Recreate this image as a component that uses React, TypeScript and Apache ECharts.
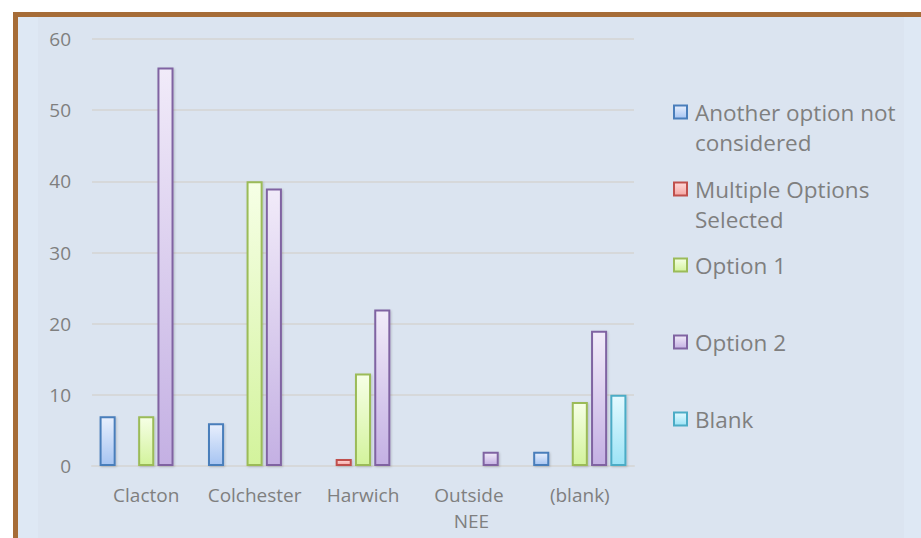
import React, { useEffect, useRef } from "react";
import * as echarts from "echarts";

const categories = ["Clacton", "Colchester", "Harwich", "Outside NEE", "(blank)"];
const seriesNames = [
  "Another option not considered",
  "Multiple Options Selected",
  "Option 1",
  "Option 2",
  "Blank",
];
const legendLines = [
  ["Another option not", "considered"],
  ["Multiple Options", "Selected"],
  ["Option 1"],
  ["Option 2"],
  ["Blank"],
];
const anotherOption = [7, 6, null, null, 2];
const multipleOptions = [null, null, 1, null, null];
const option1 = [7, 40, 13, null, 9];
const option2 = [56, 39, 22, 2, 19];
const blank = [null, null, null, null, 10];
const yTicks = { min: 0, max: 60, interval: 10 };

const palette = [
  { top: "#e8effd", bottom: "#a6c4f2", border: "#4a7ebb" },
  { top: "#ffdada", bottom: "#f4a6a3", border: "#c0504d" },
  { top: "#f6ffe6", bottom: "#d3f39c", border: "#9bbb59" },
  { top: "#f1ebf9", bottom: "#c4b0e3", border: "#8064a2" },
  { top: "#e4f9ff", bottom: "#9ce3f6", border: "#4bacc6" },
];

const TEXT = "#7f7f7f";
const FONT = "Open Sans";

export default function App() {
  const ref = useRef<HTMLDivElement>(null);
  useEffect(() => {
    if (!ref.current) return;
    const chart = echarts.init(ref.current, undefined, { renderer: "svg" });
    const data = [anotherOption, multipleOptions, option1, option2, blank];
    const series = data.map((vals, i) => ({
      name: seriesNames[i],
      type: "bar",
      data: vals,
      barGap: "20%",
      barCategoryGap: "14%",
      itemStyle: {
        color: new echarts.graphic.LinearGradient(0, 0, 0, 1, [
          { offset: 0, color: palette[i].top },
          { offset: 1, color: palette[i].bottom },
        ]),
        borderColor: palette[i].border,
        borderWidth: 2,
        shadowColor: "rgba(0,0,0,0.18)",
        shadowBlur: 2,
        shadowOffsetX: 1,
        shadowOffsetY: 1,
      },
      emphasis: { disabled: true },
    }));
    const legendCenters = [112, 189, 265, 342, 419];
    const legends = seriesNames.map((name, i) => {
      const lines = legendLines[i];
      const twoLine = lines.length > 1;
      const all = twoLine ? [" ", ...lines] : lines;
      const text = all.map((l) => `{t|${l}}`).join("\n");
      return {
        show: true,
        left: 673,
        top: legendCenters[i] - (twoLine ? 45 : 15),
        orient: "vertical",
        padding: 0,
        itemWidth: 13,
        itemHeight: 13,
        icon: "rect",
        selectedMode: false,
        data: [name],
        formatter: () => text,
        textStyle: {
          fontFamily: FONT,
          fontSize: 22.5,
          color: TEXT,
          lineHeight: 30,
          rich: {
            t: {
              fontFamily: FONT,
              fontSize: 22.5,
              color: TEXT,
              lineHeight: 30,
              padding: [0, 0, 0, 3],
            },
          },
        },
      };
    });
    chart.setOption({
      animation: false,
      backgroundColor: "transparent",
      textStyle: { fontFamily: FONT },
      grid: { left: 92, right: 287, top: 39, bottom: 72, containLabel: false },
      legend: legends,
      xAxis: {
        type: "category",
        data: categories,
        axisLine: { show: true, lineStyle: { color: "#d6d8da", width: 2 } },
        axisTick: { show: false },
        axisLabel: {
          fontFamily: FONT,
          fontSize: 19,
          color: TEXT,
          margin: 16,
          lineHeight: 26,
          width: 104,
          overflow: "break",
          interval: 0,
        },
      },
      yAxis: {
        type: "value",
        min: yTicks.min,
        max: yTicks.max,
        interval: yTicks.interval,
        axisLine: { show: false },
        axisTick: { show: false },
        splitLine: { show: true, lineStyle: { color: "#d6d8da", width: 2 } },
        axisLabel: { fontFamily: FONT, fontSize: 19, color: TEXT, margin: 21 },
      },
      series,
    });
    return () => chart.dispose();
  }, []);

  return (
    <div
      style={{
        position: "fixed",
        left: 0,
        top: 0,
        width: 921,
        height: 538,
        background: "#ffffff",
        overflow: "hidden",
      }}
    >
      <div
        style={{
          position: "absolute",
          left: 13,
          top: 12,
          width: 1000,
          height: 600,
          border: "5px solid #a66c37",
          background: "#dee8f4",
          boxSizing: "border-box",
        }}
      />
      <div
        style={{
          position: "absolute",
          left: 38,
          top: 17,
          width: 866,
          height: 600,
          background: "#dbe4f0",
        }}
      />
      <div
        ref={ref}
        style={{ position: "absolute", left: 0, top: 0, width: 921, height: 538 }}
      />
    </div>
  );
}
